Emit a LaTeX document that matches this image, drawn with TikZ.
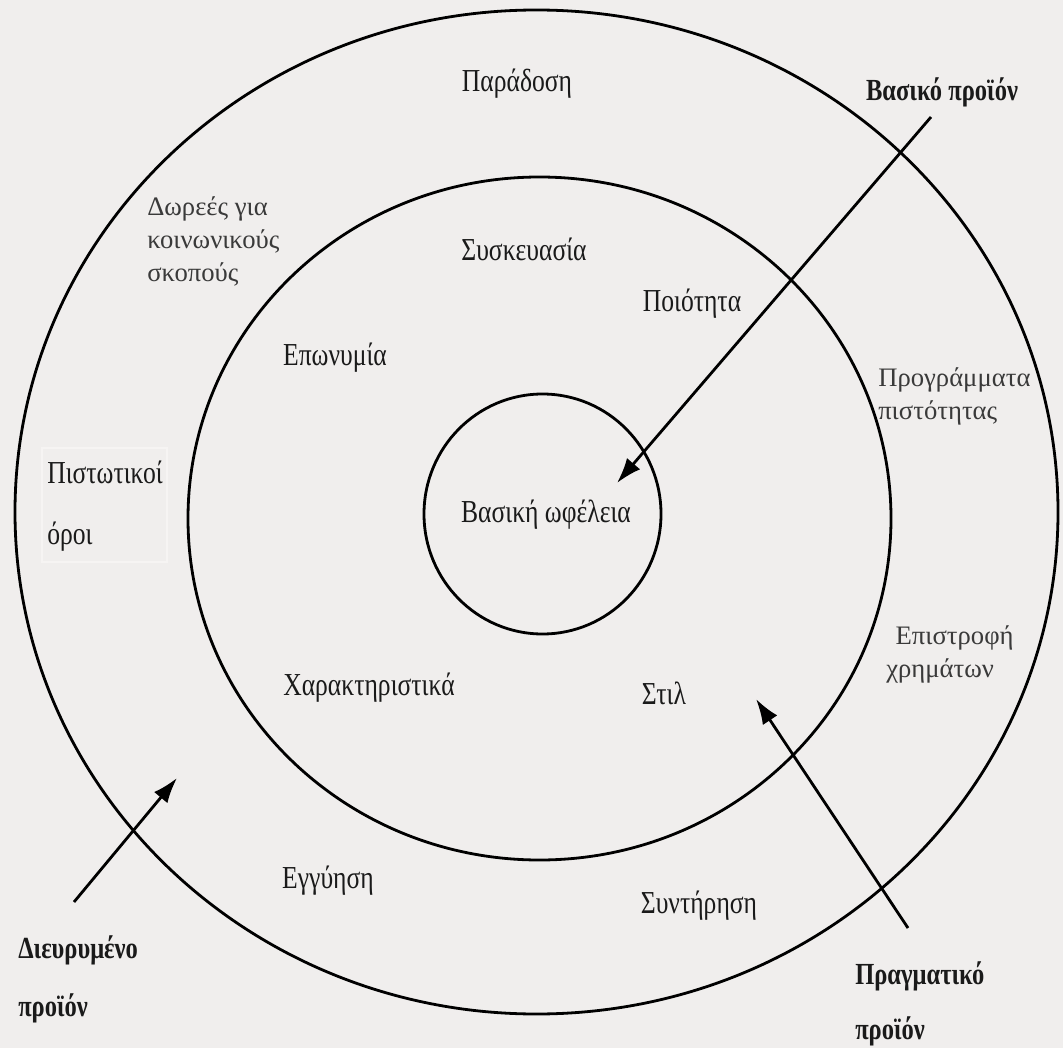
\documentclass[tikz,border=0pt]{standalone}
\usepackage{fontspec}
\setmainfont{Liberation Serif}
\newfontfamily\labelfont[FakeStretch=0.8]{Liberation Serif}
\usetikzlibrary{arrows.meta,shapes.geometric}
\definecolor{paper}{HTML}{F0EEED}
\definecolor{ink}{HTML}{1A1A1A}
\definecolor{softink}{HTML}{3A3A3A}
\definecolor{framegrey}{HTML}{F6F4F3}

\begin{document}
\begin{tikzpicture}[x=0.75pt,y=-0.75pt,
  ring/.style={ellipse,draw=black,line width=2.1pt,inner sep=0pt},
  lbl/.style={font=\labelfont\fontsize{24}{28}\selectfont,text=ink,inner sep=0pt},
  note/.style={font=\fontsize{20}{24.75}\selectfont,text=softink,inner sep=0pt,align=left},
  head/.style={text=ink,inner sep=0pt,align=left},
  pointer/.style={draw=black,line width=2.1pt,-{Latex[length=19pt,width=13pt]}}]

  % canvas
  \fill[paper] (0,0) rectangle (1063,1048);
  \useasboundingbox (0,0) rectangle (1063,1048);

  % the three product levels
  \node[ring,minimum width=782.25pt,minimum height=753pt] (outer) at (536.5,512) {};
  \node[ring,minimum width=527.25pt,minimum height=512.25pt] (middle) at (539.5,518.5) {};
  \node[ring,minimum width=177.75pt,minimum height=180pt] (inner) at (542.5,514) {};

  % core
  \node[lbl] (benefit) at (546,515) {Βασική ωφέλεια};

  % actual product
  \node[lbl] (packaging) at (524,249) {Συσκευασία};
  \node[lbl] (quality) at (692,304) {Ποιότητα};
  \node[lbl] (brand) at (335,358) {Επωνυμία};
  \node[lbl] (features) at (369,688) {Χαρακτηριστικά};
  \node[lbl] (style) at (664,693) {Στιλ};

  % augmented product
  \node[lbl] (tradition) at (517,84) {Παράδοση};
  \node[lbl] (warranty) at (328,881) {Εγγύηση};
  \node[lbl] (service) at (699,906) {Συντήρηση};
  \draw[framegrey,line width=1pt] (42,448) rectangle (167,562);
  \node[lbl,align=left,anchor=base west,
        font=\labelfont\fontsize{24}{45.75}\selectfont] (credit) at (47,544)
        {Πιστωτικοί\\όροι};
  \node[note,anchor=base west] (donations) at (147,282)
        {Δωρεές για\\κοινωνικούς\\σκοπούς};
  \node[note,anchor=base west] (loyalty) at (878,419)
        {Προγράμματα\\πιστότητας};
  \node[note,anchor=base west] (refund) at (886,677)
        {\hspace*{7pt}Επιστροφή\\χρημάτων};

  % level titles
  \node[head,font=\labelfont\bfseries\fontsize{23}{28}\selectfont] (coreTitle) at (942,92)
        {Βασικό προϊόν};
  \node[head,anchor=base west,font=\labelfont\bfseries\fontsize{23}{43.5}\selectfont] (augTitle) at (18,1016)
        {Διευρυμένο\\προϊόν};
  \node[head,anchor=base west,font=\labelfont\bfseries\fontsize{23}{41}\selectfont] (actTitle) at (855,1039)
        {Πραγματικό\\προϊόν};

  % pointers from titles to levels
  \coordinate (coreTail) at (931,117);
  \coordinate (coreTip) at (617,483);
  \coordinate (augTail) at (74,902);
  \coordinate (augTip) at (177,778);
  \coordinate (actTail) at (908,928);
  \coordinate (actTip) at (756,699);
  \draw[pointer] (coreTail) -- (coreTip);
  \draw[pointer] (augTail) -- (augTip);
  \draw[pointer] (actTail) -- (actTip);
\end{tikzpicture}
\end{document}
